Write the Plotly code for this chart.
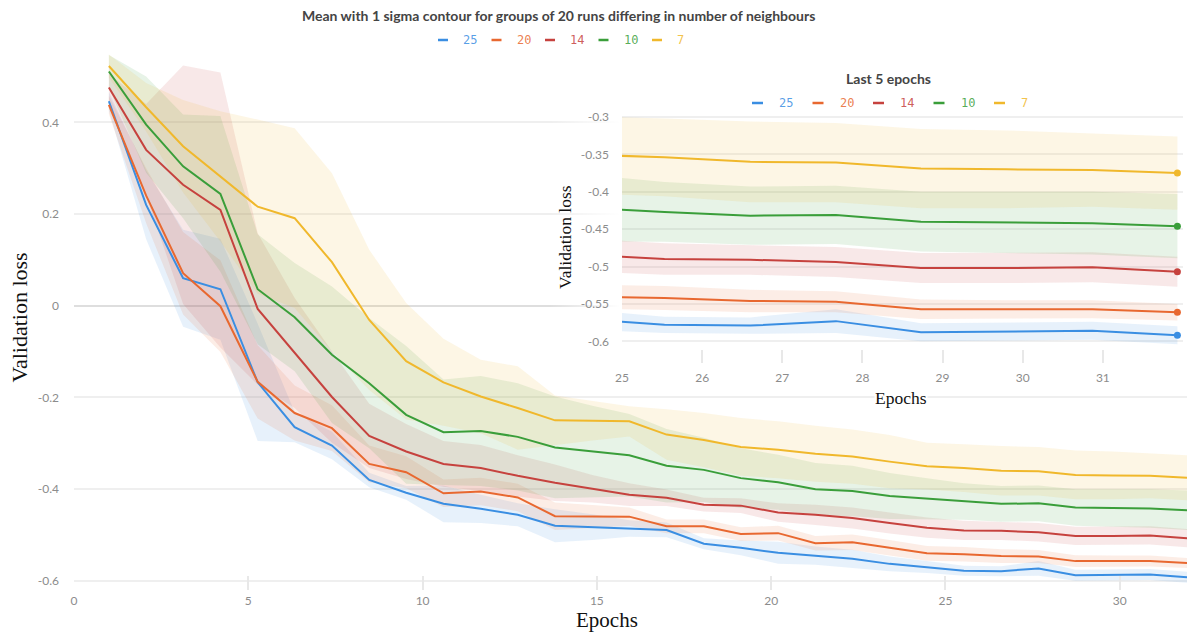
import plotly.graph_objects as go

W, H = 1187, 634
ML, MR, MT, MB = 74, 0, 49, 44

# ---- data -------------------------------------------------------------
epochs = [1.0, 2.07, 3.13, 4.2, 5.27, 6.33, 7.4, 8.47, 9.53, 10.6,
          11.67, 12.73, 13.8, 14.87, 15.93, 17.0, 18.07, 19.13, 20.2, 21.27,
          22.33, 23.4, 24.47, 25.53, 26.6, 27.67, 28.73, 29.8, 30.87, 31.93]

groups = ["25", "20", "14", "10", "7"]

mean_25 = [0.446, 0.220, 0.060, 0.036, -0.167, -0.265, -0.305, -0.380, -0.408, -0.432,
           -0.443, -0.456, -0.480, -0.483, -0.486, -0.489, -0.519, -0.528, -0.539, -0.545,
           -0.552, -0.563, -0.570, -0.578, -0.579, -0.573, -0.588, -0.587, -0.586, -0.592]
std_25 = [0.020, 0.075, 0.106, 0.110, 0.128, 0.033, 0.030, 0.016, 0.015, 0.040,
          0.031, 0.025, 0.036, 0.028, 0.018, 0.016, 0.012, 0.016, 0.024, 0.020,
          0.020, 0.016, 0.013, 0.011, 0.011, 0.016, 0.012, 0.012, 0.012, 0.012]

mean_20 = [0.438, 0.240, 0.071, -0.001, -0.166, -0.234, -0.267, -0.345, -0.363, -0.409,
           -0.405, -0.418, -0.459, -0.460, -0.460, -0.481, -0.481, -0.498, -0.496, -0.518,
           -0.516, -0.528, -0.540, -0.542, -0.546, -0.547, -0.557, -0.557, -0.557, -0.561]
std_20 = [0.020, 0.060, 0.090, 0.100, 0.080, 0.060, 0.050, 0.040, 0.035, 0.030,
          0.030, 0.030, 0.030, 0.025, 0.020, 0.015, 0.015, 0.015, 0.016, 0.016,
          0.017, 0.017, 0.016, 0.016, 0.015, 0.014, 0.013, 0.012, 0.012, 0.011]

mean_14 = [0.476, 0.340, 0.264, 0.209, -0.007, -0.103, -0.199, -0.284, -0.318, -0.345,
           -0.354, -0.371, -0.386, -0.399, -0.412, -0.419, -0.434, -0.436, -0.451, -0.456,
           -0.463, -0.474, -0.484, -0.490, -0.491, -0.494, -0.502, -0.502, -0.501, -0.507]
std_14 = [0.030, 0.100, 0.260, 0.300, 0.165, 0.120, 0.100, 0.070, 0.060, 0.050,
          0.050, 0.045, 0.040, 0.030, 0.025, 0.018, 0.015, 0.016, 0.020, 0.022,
          0.023, 0.023, 0.022, 0.021, 0.020, 0.020, 0.020, 0.020, 0.020, 0.020]

mean_10 = [0.511, 0.395, 0.304, 0.244, 0.036, -0.025, -0.107, -0.169, -0.238, -0.276,
           -0.273, -0.286, -0.309, -0.318, -0.326, -0.349, -0.358, -0.376, -0.385, -0.400,
           -0.404, -0.415, -0.421, -0.427, -0.432, -0.431, -0.440, -0.441, -0.442, -0.446]
std_10 = [0.036, 0.105, 0.113, 0.170, 0.120, 0.118, 0.149, 0.142, 0.150, 0.115,
          0.120, 0.117, 0.111, 0.100, 0.090, 0.080, 0.070, 0.065, 0.060, 0.057,
          0.055, 0.050, 0.045, 0.040, 0.039, 0.039, 0.040, 0.041, 0.042, 0.043]

mean_7 = [0.523, 0.433, 0.348, 0.282, 0.216, 0.191, 0.095, -0.031, -0.121, -0.167,
          -0.198, -0.223, -0.250, -0.251, -0.252, -0.281, -0.293, -0.308, -0.314, -0.323,
          -0.329, -0.340, -0.350, -0.354, -0.360, -0.361, -0.369, -0.370, -0.371, -0.375]
std_7 = [0.025, 0.053, 0.101, 0.142, 0.190, 0.196, 0.194, 0.153, 0.127, 0.095,
         0.080, 0.091, 0.054, 0.043, 0.033, 0.055, 0.059, 0.063, 0.062, 0.061,
         0.059, 0.058, 0.051, 0.052, 0.054, 0.053, 0.053, 0.052, 0.049, 0.049]

means = {"25": mean_25, "20": mean_20, "14": mean_14, "10": mean_10, "7": mean_7}
stds = {"25": std_25, "20": std_20, "14": std_14, "10": std_10, "7": std_7}

main_xticks = [0, 5, 10, 15, 20, 25, 30]
main_yticks = [-0.6, -0.4, -0.2, 0, 0.2, 0.4]
main_ytext = ["-0.6", "-0.4", "-0.2", "0", "0.2", "0.4"]
inset_xticks = [25, 26, 27, 28, 29, 30, 31]
inset_yticks = [-0.6, -0.55, -0.5, -0.45, -0.4, -0.35, -0.3]
inset_ytext = ["-0.6", "-0.55", "-0.5", "-0.45", "-0.4", "-0.35", "-0.3"]

# ---- styling ----------------------------------------------------------
rgb = {"25": (58, 142, 226), "20": (232, 104, 48), "14": (198, 66, 62),
       "10": (58, 158, 58), "7": (240, 184, 44)}


def col(g, a=1.0):
    r, gg, b = rgb[g]
    return f"rgba({r},{gg},{b},{a})"


def px(x):
    return (x - ML) / (W - ML - MR)


def py(y):
    return (H - MB - y) / (H - MT - MB)


TICK_FONT = dict(family="Lato, Noto Sans, sans-serif", size=12, color="#8c8c8c")
SERIF = "Liberation Serif, Times New Roman, serif"
GRID = "#efefef"

fig = go.Figure()

# white backdrop behind the inset, fading in from the left
fig.add_trace(go.Scatter(
    x=[0, 1, 1, 0, 0], y=[0, 0, 1, 1, 0], xaxis="x2", yaxis="y2",
    mode="lines", line=dict(width=0), fill="toself",
    fillgradient=dict(type="horizontal",
                      colorscale=[[0, "rgba(255,255,255,0)"],
                                  [0.11, "rgba(255,255,255,1)"],
                                  [1, "rgba(255,255,255,1)"]]),
    hoverinfo="skip", showlegend=False))

for xa, ya in (("x", "y"), ("x3", "y3")):
    for g in groups:
        m, s = means[g], stds[g]
        upper = [a + b for a, b in zip(m, s)]
        lower = [a - b for a, b in zip(m, s)]
        fig.add_trace(go.Scatter(
            x=epochs + epochs[::-1], y=upper + lower[::-1],
            xaxis=xa, yaxis=ya, mode="lines", line=dict(width=0),
            fill="toself", fillcolor=col(g, 0.12),
            hoverinfo="skip", showlegend=False))
    for g in groups:
        fig.add_trace(go.Scatter(
            x=epochs, y=means[g], xaxis=xa, yaxis=ya, mode="lines",
            line=dict(color=col(g), width=2), name=g, showlegend=False))
    if xa == "x3":
        for g in groups:
            fig.add_trace(go.Scatter(
                x=epochs[-1:], y=means[g][-1:], xaxis=xa, yaxis=ya,
                mode="markers", marker=dict(color=col(g), size=7),
                showlegend=False, hoverinfo="skip"))

# ---- axes -------------------------------------------------------------
fig.update_layout(
    width=W, height=H,
    margin=dict(l=ML, r=MR, t=MT, b=MB, pad=0),
    paper_bgcolor="white", plot_bgcolor="rgba(255,255,255,0)",
    showlegend=False,
    xaxis=dict(range=[0, 31.93], tickvals=main_xticks, showgrid=False, zeroline=False,
               ticks="inside", ticklen=14, tickwidth=2, tickcolor="#e8e8e8",
               tickfont=TICK_FONT, ticklabelstandoff=2, showline=False),
    yaxis=dict(range=[-0.62, 0.56], tickvals=main_yticks, ticktext=main_ytext,
               showgrid=True, gridcolor=GRID, gridwidth=2,
               zeroline=True, zerolinecolor="#dedede", zerolinewidth=2,
               ticks="", tickfont=TICK_FONT, ticklabelstandoff=14, showline=False),
    xaxis2=dict(domain=[px(550), 1], range=[0, 1], visible=False, fixedrange=True),
    yaxis2=dict(domain=[py(395), py(62)], range=[0, 1], visible=False, fixedrange=True),
    xaxis3=dict(domain=[px(622), px(1183)], range=[25, 32.0], tickvals=inset_xticks,
                showgrid=False, zeroline=False, ticks="inside", ticklen=13, tickwidth=2,
                tickcolor="#e8e8e8", tickfont=TICK_FONT, ticklabelstandoff=6,
                showline=False, anchor="y3"),
    yaxis3=dict(domain=[py(363), py(114)], range=[-0.629, -0.296], tickvals=inset_yticks,
                ticktext=inset_ytext, showgrid=True, gridcolor=GRID, gridwidth=2,
                zeroline=False, ticks="", tickfont=TICK_FONT, ticklabelstandoff=12,
                showline=False, anchor="x3"),
)

# ---- titles and custom legends ---------------------------------------
ann = []
shapes = []


def text(x, y, s, size, color, family, weight="normal", angle=0, xanchor="center",
         yanchor="middle", bg=None):
    d = dict(x=px(x), y=py(y), xref="paper", yref="paper", text=s, showarrow=False,
             xanchor=xanchor, yanchor=yanchor, textangle=angle, borderpad=0,
             font=dict(size=size, color=color, family=family, weight=weight))
    if bg:
        d["bgcolor"] = bg
    ann.append(d)


def legend(x0, step, y, dash_w, gap, size):
    for i, g in enumerate(groups):
        x = x0 + i * step
        shapes.append(dict(type="line", xref="paper", yref="paper",
                           x0=px(x), x1=px(x + dash_w), y0=py(y), y1=py(y),
                           line=dict(color=col(g), width=2.5)))
        text(x + dash_w + gap, y, g, size, col(g, 0.85), "DejaVu Sans Mono", xanchor="left")


text(558, 15, "Mean with 1 sigma contour for groups of 20 runs differing in number of neighbours",
     14, "#444444", "Lato, Noto Sans, sans-serif", weight="bold")
legend(438, 53.5, 40, 10, 14, 12)
text(18.5, 318, "Validation loss", 22, "#111111", SERIF, angle=-90)
text(607, 633, "Epochs", 21, "#111111", SERIF, yanchor="bottom")

text(888, 78, "Last 5 epochs", 14, "#444444", "Lato, Noto Sans, sans-serif", weight="bold")
legend(752, 60.5, 103, 11, 15, 12)
text(565, 237, "Validation loss", 17.5, "#111111", SERIF, angle=-90)
text(901, 398, "Epochs", 17.5, "#111111", SERIF, bg="white")

fig.update_layout(annotations=ann, shapes=shapes)

fig.write_html("out.html")
